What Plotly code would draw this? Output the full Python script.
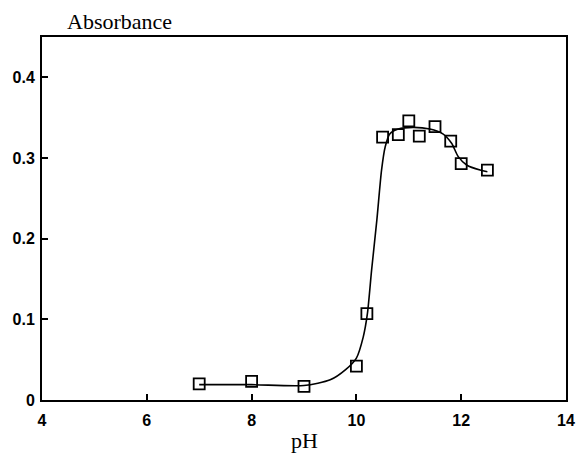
import plotly.graph_objects as go

# measured points
ph_points = [7.0, 8.0, 9.0, 10.0, 10.2, 10.5, 10.8, 11.0, 11.2, 11.5, 11.8, 12.0, 12.5]
abs_points = [0.020, 0.023, 0.017, 0.042, 0.107, 0.326, 0.329, 0.346, 0.327, 0.339, 0.321, 0.293, 0.285]

# fitted curve
curve_ph = [7.0, 8.0, 9.0, 9.5, 9.8, 10.0, 10.13, 10.21, 10.29, 10.39, 10.48, 10.55,
            10.64, 10.8, 11.08, 11.4, 11.65, 11.82, 11.94, 12.11, 12.36, 12.5]
curve_abs = [0.019, 0.019, 0.018, 0.025, 0.038, 0.052, 0.078, 0.107, 0.161, 0.223, 0.285, 0.314,
             0.330, 0.336, 0.338, 0.336, 0.330, 0.318, 0.302, 0.291, 0.285, 0.283]

x_ticks = [4, 6, 8, 10, 12, 14]
y_ticks = [0, 0.1, 0.2, 0.3, 0.4]
y_ticklabels = ["0", "0.1", "0.2", "0.3", "0.4"]

fig = go.Figure()
fig.add_trace(go.Scatter(x=curve_ph, y=curve_abs, mode="lines",
                         line=dict(color="black", width=1.6, shape="spline", smoothing=0.7),
                         hoverinfo="skip", showlegend=False))
fig.add_trace(go.Scatter(x=ph_points, y=abs_points, mode="markers",
                         marker=dict(symbol="square-open", size=11, color="black",
                                     line=dict(width=1.8, color="black")),
                         showlegend=False))

tickfont = dict(family="Liberation Sans", size=16, color="black", weight="bold")
fig.update_layout(
    width=576, height=459,
    margin=dict(l=42, r=10, t=37, b=59),
    paper_bgcolor="white", plot_bgcolor="white",
    xaxis=dict(range=[4, 14], tickvals=x_ticks, ticks="inside", ticklen=6, tickwidth=1.5,
               tickcolor="black", showline=True, linecolor="black", linewidth=2, mirror=True,
               showgrid=False, zeroline=False, tickfont=tickfont, automargin=False,
               ticklabelstandoff=5),
    yaxis=dict(range=[0, 0.45], tickvals=y_ticks, ticktext=y_ticklabels, ticks="inside",
               ticklen=6, tickwidth=1.5, tickcolor="black", showline=True, linecolor="black",
               linewidth=2, mirror=True, showgrid=False, zeroline=False, tickfont=tickfont,
               automargin=False, ticklabelstandoff=2),
    annotations=[
        dict(text="Absorbance", xref="paper", yref="paper", x=0.044, y=1,
             xanchor="left", yanchor="bottom", yshift=1, showarrow=False,
             font=dict(family="Liberation Serif", size=22, color="black")),
        dict(text="pH", xref="paper", yref="paper", x=0.5, y=0,
             xanchor="center", yanchor="middle", yshift=-40, showarrow=False,
             font=dict(family="Liberation Serif", size=22, color="black")),
    ],
)

fig.write_html("out.html")
